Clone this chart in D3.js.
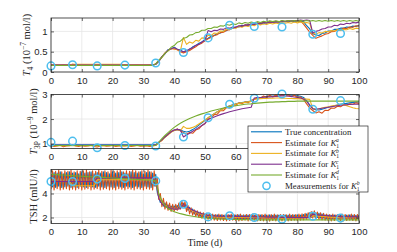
<!DOCTYPE html>
<html>
<head>
<meta charset="utf-8">
<script src="https://cdn.jsdelivr.net/npm/d3@7"></script>
<style>
  body { margin: 0; background: #fff; }
  svg { display: block; }
</style>
</head>
<body>
<div id="chart"></div>
<script>
//Colores MATLAB
const COLOR_TRUE = '#0072BD',
COLOR_A = '#D95319',
COLOR_B = '#EDB120',
COLOR_C = '#7E2F8E',
COLOR_D = '#77AC30',
COLOR_MEAS = '#4DBEEE';

//Datos (valores diarios; TSH real y K1a cada medio dia)
const xTicks = [0, 10, 20, 30, 40, 50, 60, 70, 80, 90, 100];

const t4True = [
.17,.17,.17,.17,.17,.17,.17,.17,.17,.17,
.17,.17,.17,.17,.17,.17,.17,.17,.17,.17,
.17,.17,.17,.17,.17,.17,.17,.17,.17,.17,
.17,.17,.17,.17,.19,.26,.38,.45,.55,.57,
.61,.56,.54,.49,.53,.55,.62,.65,.71,.74,
.80,.83,.88,.90,.95,.96,1.01,1.02,1.07,1.07,
1.11,1.11,1.15,1.14,1.17,1.16,1.19,1.18,1.21,1.19,
1.22,1.21,1.23,1.22,1.24,1.23,1.25,1.23,1.26,1.24,
1.26,1.24,1.24,1.14,1.06,.94,.91,.90,.95,.96,
1.01,1.01,1.05,1.05,1.08,1.08,1.11,1.10,1.13,1.12,
1.15];
const t4A = [
.17,.18,.17,.17,.18,.17,.17,.19,.18,.17,
.17,.18,.17,.17,.17,.18,.17,.17,.17,.18,
.17,.17,.17,.18,.18,.17,.17,.17,.18,.17,
.17,.17,.18,.17,.20,.28,.37,.47,.53,.58,
.57,.55,.50,.47,.50,.53,.58,.62,.68,.71,
.77,.82,.85,.90,.92,.97,.98,1.03,1.04,1.09,
1.09,1.13,1.12,1.16,1.15,1.19,1.17,1.21,1.19,1.23,
1.21,1.24,1.22,1.25,1.23,1.26,1.24,1.27,1.25,1.27,
1.25,1.26,1.18,1.08,.98,.90,.83,.86,.89,.93,
.95,.99,1.00,1.04,1.04,1.08,1.07,1.11,1.10,1.14,
1.13];
const t4B = [
.17,.17,.17,.17,.17,.17,.17,.19,.19,.19,
.19,.19,.19,.19,.19,.19,.19,.19,.19,.19,
.19,.19,.19,.19,.18,.18,.18,.18,.18,.18,
.18,.18,.18,.18,.19,.27,.36,.46,.53,.57,
.58,.55,.52,.85,.68,.74,.71,.78,.76,.84,
.83,.90,.90,.96,.95,1.01,1.00,1.06,1.04,1.09,
1.08,1.12,1.10,1.14,1.12,1.16,1.14,1.18,1.16,1.19,
1.17,1.20,1.18,1.21,1.19,1.22,1.20,1.22,1.20,1.23,
1.21,1.23,1.21,1.22,1.20,.96,.93,.97,.96,1.00,
.99,1.02,1.01,1.04,1.02,1.05,1.04,1.07,1.05,1.08,
1.07];
const t4C = [
.17,.17,.17,.17,.17,.17,.17,.17,.17,.17,
.17,.17,.17,.17,.17,.17,.17,.17,.17,.17,
.17,.17,.17,.17,.17,.17,.17,.17,.17,.17,
.17,.17,.17,.17,.19,.26,.37,.45,.54,.57,
.60,.56,.53,.50,.52,.57,.60,.66,.68,.74,
.78,1.02,.99,1.03,1.02,1.06,1.05,1.09,1.08,1.11,
1.10,1.14,1.13,1.16,1.15,1.18,1.17,1.20,1.19,1.22,
1.21,1.23,1.22,1.24,1.23,1.25,1.24,1.26,1.25,1.27,
1.26,1.28,1.27,1.28,1.27,.96,1.00,1.02,1.06,1.07,
1.11,1.11,1.15,1.14,1.18,1.17,1.20,1.19,1.22,1.21,
1.23];
const t4D = [
.16,.16,.16,.16,.16,.16,.16,.16,.16,.16,
.16,.16,.16,.16,.16,.16,.16,.16,.16,.16,
.16,.16,.16,.16,.16,.16,.16,.16,.16,.16,
.16,.16,.16,.16,.20,.29,.36,.46,.52,.61,
.65,.73,.76,.83,.85,.91,.92,.97,.98,1.03,
1.03,1.07,1.07,1.11,1.10,1.14,1.13,1.17,1.15,1.19,
1.17,1.21,1.19,1.22,1.20,1.23,1.21,1.24,1.22,1.25,
1.23,1.26,1.24,1.26,1.24,1.27,1.25,1.27,1.25,1.27,
1.25,1.27,1.25,1.27,1.25,1.27,1.25,1.27,1.25,1.27,
1.25,1.27,1.25,1.27,1.25,1.27,1.25,1.27,1.25,1.27,
1.25];

const t3True = [
.95,.95,.95,.95,.95,.95,.95,.95,.95,.95,
.95,.95,.95,.95,.95,.95,.95,.95,.95,.95,
.95,.95,.95,.95,.95,.95,.95,.95,.95,.95,
.95,.95,.95,.95,.95,1.05,1.15,1.27,1.38,1.48,
1.55,1.58,1.55,1.50,1.47,1.50,1.57,1.65,1.75,1.85,
1.95,2.05,2.14,2.22,2.30,2.37,2.43,2.49,2.54,2.58,
2.62,2.65,2.67,2.69,2.71,2.73,2.82,2.86,2.88,2.90,
2.92,2.93,2.94,2.95,2.97,2.98,2.98,2.98,2.97,2.96,
2.95,2.93,2.88,2.75,2.55,2.42,2.38,2.37,2.40,2.44,
2.48,2.51,2.54,2.57,2.60,2.62,2.64,2.66,2.68,2.69,
2.70];
const t3A = [
.92,.88,.90,.93,.87,.90,.91,.95,.90,.88,
.92,.89,.90,.93,.88,.86,.90,.92,.89,.90,
.93,.88,.90,.91,.90,.92,.88,.90,.93,.89,
.90,.91,.88,.90,.93,1.06,1.13,1.29,1.36,1.50,
1.53,1.60,1.52,1.45,1.38,1.45,1.42,1.55,1.60,1.74,
1.82,2.00,2.04,2.18,2.20,2.34,2.34,2.47,2.45,2.58,
2.56,2.66,2.62,2.70,2.66,2.76,2.80,2.88,2.84,2.94,
2.88,2.97,2.90,2.98,2.92,3.00,2.93,2.99,2.91,2.97,
2.89,2.90,2.80,2.62,2.45,2.35,2.25,2.30,2.24,2.36,
2.35,2.45,2.44,2.52,2.50,2.58,2.56,2.62,2.60,2.66,
2.64];
const t3B = [
.91,.91,.91,.91,.91,.91,.91,.91,.91,.91,
.91,.91,.91,.91,.91,.91,.91,.91,.91,.91,
.91,.91,.91,.91,.91,.91,.91,.91,.91,.91,
.91,.91,.91,.91,.92,1.03,1.13,1.25,1.36,1.46,
1.53,1.56,1.52,1.70,1.62,1.62,1.66,1.72,1.80,1.88,
1.96,2.05,2.14,2.22,2.30,2.36,2.42,2.48,2.53,2.57,
2.61,2.64,2.66,2.68,2.70,2.72,2.80,2.82,2.83,2.84,
2.84,2.85,2.85,2.86,2.86,2.85,2.85,2.84,2.84,2.83,
2.83,2.82,2.82,2.81,2.80,2.42,2.40,2.42,2.45,2.48,
2.50,2.53,2.55,2.57,2.60,2.58,2.54,2.50,2.46,2.43,
2.42];
const t3C = [
.93,.93,.93,.93,.93,.93,.93,.93,.93,.93,
.93,.93,.93,.93,.93,.93,.93,.93,.93,.93,
.93,.93,.93,.93,.93,.93,.93,.93,.93,.93,
.93,.93,.93,.93,.95,1.05,1.15,1.27,1.38,1.48,
1.55,1.58,1.55,1.27,1.35,1.42,1.50,1.58,1.66,1.74,
1.82,1.98,2.03,2.08,2.13,2.18,2.22,2.26,2.30,2.33,
2.36,2.39,2.42,2.44,2.46,2.48,2.86,2.88,2.88,2.89,
2.90,2.90,2.91,2.92,2.93,2.95,2.94,2.93,2.92,2.90,
2.88,2.86,2.82,2.72,2.58,2.42,2.40,2.42,2.44,2.46,
2.48,2.50,2.52,2.54,2.56,2.57,2.58,2.59,2.60,2.60,
2.60];
const t3D = [
.92,.92,.92,.92,.92,.92,.92,.92,.92,.92,
.92,.92,.92,.92,.92,.92,.92,.92,.92,.92,
.92,.92,.92,.92,.92,.92,.92,.92,.92,.92,
.92,.92,.92,.92,.93,1.06,1.20,1.33,1.45,1.56,
1.66,1.75,1.83,1.90,1.96,2.02,2.07,2.12,2.17,2.21,
2.25,2.29,2.33,2.36,2.39,2.42,2.45,2.48,2.50,2.52,
2.54,2.56,2.58,2.60,2.61,2.62,2.64,2.65,2.66,2.67,
2.68,2.69,2.69,2.70,2.70,2.71,2.71,2.72,2.72,2.72,
2.73,2.73,2.73,2.73,2.73,2.73,2.73,2.73,2.73,2.73,
2.73,2.73,2.73,2.73,2.73,2.73,2.73,2.73,2.73,2.73,
2.73];

const tshTrue = [
5.6,4.55, 5.75,4.5, 5.7,4.6, 5.8,4.5, 5.65,4.55,
5.75,4.6, 5.8,4.5, 5.7,4.55, 5.75,4.5, 5.65,4.6,
5.8,4.55, 5.7,4.5, 5.75,4.6, 5.8,4.55, 5.65,4.5,
5.75,4.6, 5.7,4.55, 5.8,4.5, 5.75,4.6, 5.65,4.55,
5.8,4.5, 5.7,4.6, 5.75,4.55, 5.8,4.5, 5.7,4.6,
5.65,4.55, 5.8,4.5, 5.75,4.6, 5.7,4.55, 5.8,4.5,
5.65,4.6, 5.75,4.55, 5.8,4.5, 5.7,4.6, 5.6,4.1,
3.7,3.25, 3.4,2.95, 3.2,2.85, 3.05,2.75, 2.95,2.7,
2.95,2.7, 3.0,2.75, 3.15,2.85, 3.2,2.8, 3.05,2.6,
2.85,2.45, 2.7,2.3, 2.55,2.2, 2.45,2.1, 2.35,2.05,
2.3,2.0, 2.25,1.95, 2.25,1.95, 2.2,1.9, 2.22,1.9,
2.2,1.92, 2.18,1.9, 2.22,1.88, 2.2,1.9, 2.18,1.92,
2.2,1.9, 2.22,1.88, 2.18,1.9, 2.2,1.92, 2.2,1.88,
2.22,1.9, 2.18,1.9, 2.2,1.88, 2.2,1.92, 2.18,1.9,
2.2,1.88, 2.22,1.9, 2.18,1.9, 2.2,1.92, 2.2,1.88,
2.18,1.9, 2.22,1.9, 2.2,1.88, 2.18,1.92, 2.2,1.9,
2.22,1.9, 2.2,1.92, 2.25,1.93, 2.3,1.95, 2.4,2.0,
2.45,2.05, 2.4,2.0, 2.35,1.95, 2.3,1.95, 2.22,1.92,
2.2,1.9, 2.18,1.9, 2.2,1.92, 2.22,1.88, 2.2,1.9,
2.18,1.9, 2.2,1.92, 2.22,1.88, 2.2,1.9, 2.18,1.92,
2.2];
const tshA = [
4.35,5.9, 4.3,5.85, 4.4,5.95, 4.3,5.8, 4.35,5.9,
4.4,5.85, 4.3,5.95, 4.35,5.8, 4.3,5.9, 4.4,5.85,
4.3,5.9, 4.35,5.95, 4.4,5.8, 4.3,5.9, 4.35,5.85,
4.4,5.95, 4.3,5.85, 4.35,5.9, 4.4,5.8, 4.3,5.95,
4.35,5.85, 4.3,5.9, 4.4,5.95, 4.35,5.8, 4.3,5.9,
4.4,5.85, 4.35,5.95, 4.3,5.9, 4.4,5.8, 4.35,5.9,
4.3,5.85, 4.4,5.95, 4.35,5.8, 4.3,5.9, 4.6,5.3,
3.5,4.0, 2.9,3.6, 2.7,3.3, 2.6,3.2, 2.5,3.1,
2.5,3.1, 2.6,3.2, 2.7,3.35, 2.9,3.3, 2.5,3.0,
2.3,2.8, 2.2,2.65, 2.1,2.55, 2.0,2.45, 1.95,2.4,
1.9,2.35, 1.85,2.3, 1.8,2.28, 1.78,2.25, 1.75,2.28,
1.78,2.25, 1.75,2.22, 1.72,2.25, 1.75,2.28, 1.78,2.22,
1.75,2.25, 1.72,2.28, 1.75,2.22, 1.78,2.25, 1.72,2.25,
1.75,2.28, 1.78,2.22, 1.72,2.25, 1.75,2.25, 1.72,2.28,
1.75,2.22, 1.7,2.25, 1.75,2.28, 1.72,2.22, 1.7,2.25,
1.72,2.25, 1.75,2.22, 1.72,2.28, 1.75,2.25, 1.78,2.25,
1.75,2.28, 1.78,2.3, 1.8,2.35, 1.85,2.4, 1.9,2.5,
1.95,2.55, 1.9,2.45, 1.85,2.4, 1.8,2.35, 1.78,2.28,
1.75,2.25, 1.72,2.28, 1.75,2.22, 1.78,2.25, 1.75,2.28,
1.72,2.25, 1.75,2.22, 1.78,2.28, 1.75,2.25, 1.72,2.25,
1.78];
const tshB = [
5.0,5.0,5.0,5.0,5.0,5.0,5.0,4.65,4.65,4.65,
4.65,4.65,4.65,4.65,4.65,5.15,5.15,5.15,5.15,5.15,
5.15,5.15,5.15,5.15,5.15,5.15,5.15,5.15,5.15,5.15,
5.15,5.15,5.15,5.15,5.0,3.7,3.2,3.0,2.85,2.75,
2.7,2.7,2.75,3.1,2.85,2.7,2.55,2.45,2.35,2.28,
2.22,2.1,2.08,2.06,2.05,2.04,2.03,2.02,2.05,2.04,
2.03,2.02,2.02,2.01,2.0,2.0,2.02,2.0,2.0,1.99,
1.99,1.98,1.98,1.98,1.97,1.95,1.96,1.96,1.97,1.97,
1.97,1.98,1.98,1.98,1.98,2.15,2.12,2.1,2.08,2.06,
2.04,2.03,2.02,2.01,1.98,1.98,1.98,1.98,1.98,1.98,
1.98];
const tshC = [
5.0,5.0,5.0,5.0,5.0,5.0,5.0,5.0,5.0,5.0,
5.0,5.0,5.0,5.0,5.0,5.3,5.3,5.3,5.3,5.3,
5.3,5.3,5.3,5.3,5.3,5.3,5.3,5.3,5.3,5.3,
5.3,5.3,5.3,5.3,5.0,3.6,3.15,2.95,2.85,2.75,
2.7,2.7,2.75,3.1,2.9,2.75,2.6,2.5,2.4,2.32,
2.25,2.15,2.13,2.12,2.11,2.1,2.1,2.09,2.12,2.1,
2.09,2.08,2.08,2.07,2.06,2.06,2.05,2.05,2.04,2.04,
2.03,2.03,2.02,2.02,2.02,2.0,2.01,2.01,2.01,2.0,
2.0,2.0,2.0,2.0,2.0,2.28,2.24,2.21,2.19,2.17,
2.15,2.13,2.12,2.1,2.05,2.06,2.06,2.05,2.05,2.05,
2.05];
const tshD = [
5.6,5.58,5.57,5.55,5.54,5.52,5.5,5.49,5.47,5.46,
5.44,5.43,5.41,5.4,5.38,5.37,5.35,5.34,5.32,5.31,
5.29,5.28,5.26,5.25,5.23,5.22,5.2,5.19,5.17,5.16,
5.14,5.13,5.12,5.1,5.05,4.0,3.4,3.0,2.75,2.6,
2.48,2.4,2.32,2.26,2.2,2.15,2.1,2.06,2.02,1.99,
1.96,1.94,1.92,1.9,1.88,1.87,1.86,1.85,1.84,1.83,
1.83,1.82,1.82,1.82,1.81,1.81,1.81,1.8,1.8,1.8,
1.8,1.8,1.8,1.8,1.8,1.8,1.8,1.8,1.8,1.8,
1.8,1.8,1.8,1.8,1.8,1.8,1.8,1.8,1.8,1.8,
1.8,1.8,1.8,1.8,1.8,1.8,1.8,1.8,1.8,1.8,
1.8];

//Medidas K1b
const measDays = [0, 7, 15, 24, 34, 43, 51, 58, 66, 75, 85, 94];
const measT4 = [.15, .18, .15, .17, .22, .48, .84, 1.15, 1.12, 1.11, .93, .95];
const measT3 = [1.05, 1.1, .83, .92, .9, 1.27, 2.05, 2.6, 2.85, 3.02, 2.4, 2.75];
const measTSH = [5.0, 5.0, 5.2, 5.25, 5.05, 3.1, 2.05, 2.15, 2.0, 1.85, 2.1, 1.95];

const legendLabels = ['a', 'b', 'c', 'd'];

//Paneles
const panels = [
    {series: [t4True, t4A, t4B, t4C, t4D], meas: measT4, domain: [0, 1.33], ticks: [0, 0.5, 1], labelX: 30, label: 't4'},
    {series: [t3True, t3A, t3B, t3C, t3D], meas: measT3, domain: [0.8, 3], ticks: [1, 2, 3], labelX: 37, label: 't3'},
    {series: [tshTrue, tshA, tshB, tshC, tshD], meas: measTSH, domain: [1.5, 6], ticks: [2, 4], labelX: 37, label: 'tsh'}
];
const colors = [COLOR_TRUE, COLOR_A, COLOR_B, COLOR_C, COLOR_D];

const width = 397, height = 252;
const left = 51, right = 359, panelH = 54;
const tops = [18, 94.5, 169.5];
const legendBox = {x: 248, y: 126, w: 120, h: 66};

const svg = d3.select('#chart')
    .append('svg')
        .attr('width', width)
        .attr('height', height);

let x = d3.scaleLinear().domain([0, 100]).range([left, right]);

const SANS = "'Liberation Sans', Arial, sans-serif";
const SERIF = "'Liberation Serif', 'Times New Roman', serif";
const AXIS_COLOR = '#262626';

panels.forEach(function(p, k) {
    let top = tops[k], bottom = top + panelH;
    let y = d3.scaleLinear().domain(p.domain).range([bottom, top]);
    let g = svg.append('g');

    //Rejilla
    g.append('g').selectAll('line')
        .data(xTicks)
        .enter()
        .append('line')
        .attr('x1', d => x(d)).attr('x2', d => x(d))
        .attr('y1', top).attr('y2', bottom)
        .attr('stroke', '#e6e6e6').attr('stroke-width', 0.8);
    g.append('g').selectAll('line')
        .data(p.ticks)
        .enter()
        .append('line')
        .attr('x1', left).attr('x2', right)
        .attr('y1', d => y(d)).attr('y2', d => y(d))
        .attr('stroke', '#e6e6e6').attr('stroke-width', 0.8);

    //Recorte
    let clipId = 'clip' + k;
    svg.append('clipPath').attr('id', clipId)
        .append('rect')
        .attr('x', left).attr('y', top - 0.5)
        .attr('width', right - left).attr('height', panelH + 1);

    let plot = g.append('g').attr('clip-path', 'url(#' + clipId + ')');

    p.series.forEach(function(arr, s) {
        let step = 100 / (arr.length - 1);
        let line = d3.line()
            .x((d, i) => x(i * step))
            .y(d => y(d));
        plot.append('path')
            .datum(arr)
            .attr('d', line)
            .attr('fill', 'none')
            .attr('stroke', colors[s])
            .attr('stroke-width', 1.1)
            .attr('stroke-linejoin', 'round');
    });

    //Medidas
    g.append('g').selectAll('circle')
        .data(p.meas)
        .enter()
        .append('circle')
        .attr('cx', (d, i) => x(measDays[i]))
        .attr('cy', d => y(d))
        .attr('r', 3.8)
        .attr('fill', 'none')
        .attr('stroke', COLOR_MEAS)
        .attr('stroke-width', 1.5);

    //Ejes
    let xAxis = g.append('g')
        .attr('transform', 'translate(0,' + bottom + ')')
        .call(d3.axisBottom(x).tickValues(xTicks).tickSizeInner(-3).tickSizeOuter(0).tickPadding(5));
    let xTop = g.append('g')
        .attr('transform', 'translate(0,' + top + ')')
        .call(d3.axisTop(x).tickValues(xTicks).tickSizeInner(-3).tickSizeOuter(0).tickFormat(''));
    let yAxis = g.append('g')
        .attr('transform', 'translate(' + left + ',0)')
        .call(d3.axisLeft(y).tickValues(p.ticks).tickSizeInner(-3).tickSizeOuter(0).tickPadding(3.5).tickFormat(d3.format('')));
    let yRight = g.append('g')
        .attr('transform', 'translate(' + right + ',0)')
        .call(d3.axisRight(y).tickValues(p.ticks).tickSizeInner(-3).tickSizeOuter(0).tickFormat(''));

    [xAxis, xTop, yAxis, yRight].forEach(function(a) {
        a.select('.domain').remove();
        a.selectAll('line').attr('stroke', AXIS_COLOR).attr('stroke-width', 0.7);
        a.selectAll('text').attr('fill', AXIS_COLOR).style('font-family', SANS).style('font-size', '9.5px');
    });

    //Etiquetas tapadas por la leyenda
    if (bottom < legendBox.y + legendBox.h && bottom + 14 > legendBox.y) {
        xAxis.selectAll('.tick')
            .filter(d => x(d) + 8 > legendBox.x)
            .select('text').remove();
    }

    g.append('rect')
        .attr('x', left).attr('y', top)
        .attr('width', right - left).attr('height', panelH)
        .attr('fill', 'none')
        .attr('stroke', AXIS_COLOR)
        .attr('stroke-width', 0.8);

    //Etiqueta eje Y
    let lab = g.append('text')
        .attr('transform', 'translate(' + p.labelX + ',' + (top + panelH / 2) + ') rotate(-90)')
        .attr('text-anchor', 'middle')
        .attr('fill', AXIS_COLOR)
        .style('font-family', SERIF)
        .style('font-size', '10.5px');
    if (p.label === 't4') {
        lab.append('tspan').style('font-style', 'italic').text('T');
        lab.append('tspan').attr('dy', 2.5).style('font-size', '7.5px').text('4');
        lab.append('tspan').attr('dy', -2.5).text('\u00a0(10');
        lab.append('tspan').attr('dy', -4).style('font-size', '7.5px').text('\u22127');
        lab.append('tspan').attr('dy', 4).text('\u00a0mol/l)');
    } else if (p.label === 't3') {
        lab.append('tspan').style('font-style', 'italic').text('T');
        lab.append('tspan').attr('dy', 2.5).style('font-size', '7.5px').text('3P');
        lab.append('tspan').attr('dy', -2.5).text('\u00a0(10');
        lab.append('tspan').attr('dy', -4).style('font-size', '7.5px').text('\u22129');
        lab.append('tspan').attr('dy', 4).text('\u00a0mol/l)');
    } else {
        lab.text('TSH (mIU/l)');
    }
});

//Etiqueta eje X
svg.append('text')
    .attr('x', 205).attr('y', 246.4)
    .attr('text-anchor', 'middle')
    .attr('fill', AXIS_COLOR)
    .style('font-family', SERIF)
    .style('font-size', '10px')
    .text('Time (d)');

//Leyenda
let leg = svg.append('g');
leg.append('rect')
    .attr('x', legendBox.x).attr('y', legendBox.y)
    .attr('width', legendBox.w).attr('height', legendBox.h)
    .attr('fill', '#fff')
    .attr('stroke', AXIS_COLOR)
    .attr('stroke-width', 0.7);

const rowY = d3.range(6).map(i => 131.8 + i * 10.8);

function kLabel(t, prefix, sup) {
    t.append('tspan').text(prefix);
    t.append('tspan').style('font-style', 'italic').text('K');
    t.append('tspan').attr('dy', 2).style('font-size', '5.6px').text('1');
    t.append('tspan').attr('dx', -3).attr('dy', -5.6).style('font-size', '5.6px').style('font-style', 'italic').text(sup);
}

colors.forEach(function(c, i) {
    leg.append('line')
        .attr('x1', 251).attr('x2', 282)
        .attr('y1', rowY[i]).attr('y2', rowY[i])
        .attr('stroke', c).attr('stroke-width', 1.1);
    let t = leg.append('text')
        .attr('x', 285).attr('y', rowY[i] + 2.9)
        .attr('fill', AXIS_COLOR)
        .style('font-family', SERIF)
        .style('font-size', '8.8px');
    if (i === 0) t.text('True concentration');
    else kLabel(t, 'Estimate for ', legendLabels[i - 1]);
});
leg.append('circle')
    .attr('cx', 266.5).attr('cy', rowY[5])
    .attr('r', 3.6)
    .attr('fill', 'none')
    .attr('stroke', COLOR_MEAS)
    .attr('stroke-width', 1.5);
let tm = leg.append('text')
    .attr('x', 285).attr('y', rowY[5] + 2.9)
    .attr('fill', AXIS_COLOR)
    .style('font-family', SERIF)
    .style('font-size', '8.8px');
kLabel(tm, 'Measurements for ', 'b');
</script>
</body>
</html>
